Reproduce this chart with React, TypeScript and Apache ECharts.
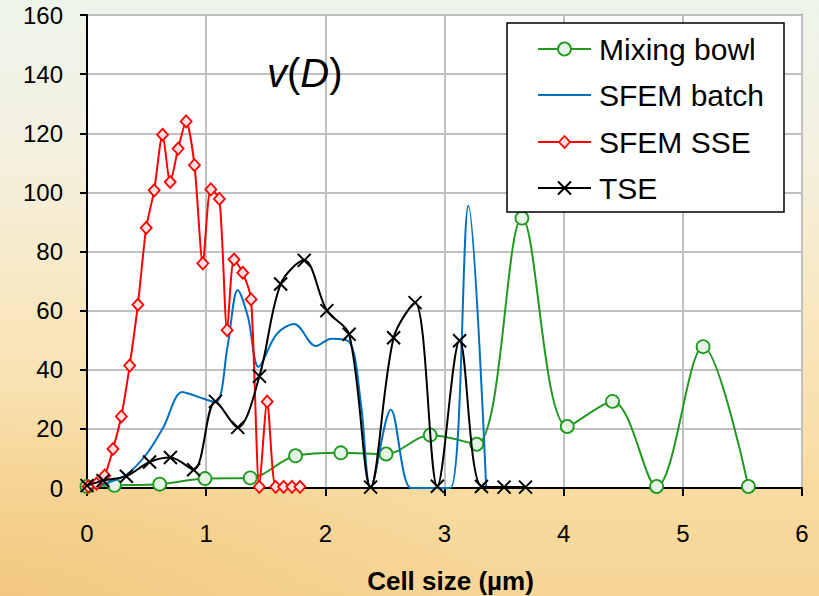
import React, { useEffect, useRef } from "react";
import * as echarts from "echarts";

const xTickMax = 6;
const yTickMax = 160;

const mixingBowlX = [0, 0.23, 0.61, 0.99, 1.37, 1.75, 2.13, 2.51, 2.88, 3.27, 3.65, 4.03, 4.41, 4.78, 5.17, 5.55];
const mixingBowlY = [0.5, 0.9, 1.3, 3.2, 3.4, 10.9, 11.9, 11.5, 17.9, 14.8, 91.3, 20.8, 29.3, 0.5, 47.8, 0.5];

const sfemBatchX = [0, 0.15, 0.33, 0.5, 0.64, 0.8, 0.92, 1.08, 1.18, 1.265, 1.35, 1.44, 1.59, 1.74, 1.92, 2.05, 2.2, 2.3, 2.38, 2.55, 2.72, 2.88, 3.05, 3.2, 3.35];
const sfemBatchY = [0, 1.5, 4.5, 11.5, 20.5, 32.5, 31, 29, 48, 67, 58, 41, 52, 55.5, 48, 50.5, 49.5, 28, 0, 26.5, 0, 0, 0, 95.5, 0];

const sfemSseX = [0.01, 0.08, 0.148, 0.218, 0.288, 0.358, 0.427, 0.497, 0.564, 0.634, 0.698, 0.765, 0.832, 0.902, 0.972, 1.039, 1.111, 1.176, 1.234, 1.307, 1.377, 1.446, 1.512, 1.583, 1.65, 1.72, 1.787];
const sfemSseY = [0.5, 1.5, 4.2, 13.2, 24.2, 41.4, 62, 88, 100.7, 119.5, 103.5, 114.8, 124, 109.2, 76, 101, 97.8, 53.4, 77.3, 72.8, 63.8, 0.4, 29.2, 0.4, 0.4, 0.4, 0.4];

const tseX = [0, 0.134, 0.33, 0.525, 0.7, 0.895, 1.078, 1.265, 1.447, 1.625, 1.823, 2.013, 2.2, 2.38, 2.573, 2.753, 2.94, 3.127, 3.31, 3.5, 3.68];
const tseY = [0.8, 2.5, 4, 8.8, 10.3, 6.2, 29.3, 20.5, 37.8, 69, 77, 60, 52, 0.3, 50.8, 62.7, 0.6, 49.8, 0.5, 0.3, 0.3];

const seriesNames = ["Mixing bowl", "SFEM batch", "SFEM SSE", "TSE"];
const seriesColors = ["#1f9a1f", "#0070c0", "#ff0000", "#000000"];

const zip = (xs: number[], ys: number[]) => xs.map((x, i) => [x, ys[i]]);

const FONT = "'Liberation Sans', Arial, sans-serif";
const X_PATH = "path://M0 0L10 10M10 0L0 10";

export default function App() {
  const ref = useRef<HTMLDivElement>(null);
  useEffect(() => {
    if (!ref.current) return;
    const chart = echarts.init(ref.current, null, { renderer: "svg" });

    const lgX = 507, lgY = 23, lgW = 277, lgH = 189;
    const rows = [49, 95, 142, 188];
    const l0 = 538, l1 = 591, mc = (l0 + l1) / 2;
    const legendEls: any[] = [
      { type: "rect", shape: { x: lgX, y: lgY, width: lgW, height: lgH }, style: { fill: "#fff", stroke: "#000", lineWidth: 1.5 }, z: 100 },
    ];
    rows.forEach((ry, i) => {
      legendEls.push({ type: "line", shape: { x1: l0, y1: ry, x2: l1, y2: ry }, style: { stroke: seriesColors[i], lineWidth: 2 }, z: 101 });
      legendEls.push({ type: "text", x: 599, y: ry, style: { text: seriesNames[i], fill: "#000", font: `30px ${FONT}`, verticalAlign: "middle", align: "left" }, z: 101 });
    });
    legendEls.push({ type: "circle", shape: { cx: mc, cy: rows[0], r: 6.5 }, style: { fill: "#e6f4e6", stroke: seriesColors[0], lineWidth: 1.8 }, z: 102 });
    legendEls.push({ type: "polygon", shape: { points: [[mc, rows[2] - 6], [mc + 5.5, rows[2]], [mc, rows[2] + 6], [mc - 5.5, rows[2]]] }, style: { fill: "#fde0e0", stroke: seriesColors[2], lineWidth: 1.8 }, z: 102 });
    legendEls.push({ type: "line", shape: { x1: mc - 6.5, y1: rows[3] - 6.5, x2: mc + 6.5, y2: rows[3] + 6.5 }, style: { stroke: "#000", lineWidth: 2 }, z: 102 });
    legendEls.push({ type: "line", shape: { x1: mc + 6.5, y1: rows[3] - 6.5, x2: mc - 6.5, y2: rows[3] + 6.5 }, style: { stroke: "#000", lineWidth: 2 }, z: 102 });

    const option: any = {
      animation: false,
      backgroundColor: "transparent",
      grid: {
        left: 87, right: 17, top: 15, bottom: 108,
        show: true, backgroundColor: "#ffffff", borderColor: "#000", borderWidth: 1.5,
        outerBoundsMode: "none",
      },
      xAxis: {
        type: "value", min: 0, max: xTickMax, interval: 1,
        name: "Cell size (µm)", nameLocation: "middle", nameGap: 80,
        nameTextStyle: { fontFamily: FONT, fontSize: 26, fontWeight: "bold", color: "#000", padding: [0, 0, 0, 12] },
        axisLine: { onZero: false, lineStyle: { color: "#000", width: 2 } },
        axisTick: { show: true, inside: false, length: 8, lineStyle: { color: "#000", width: 2 } },
        axisLabel: { fontFamily: FONT, fontSize: 24, color: "#000", margin: 33 },
        splitLine: { show: true, lineStyle: { color: "#c0c0c0", width: 2 } },
      },
      yAxis: {
        type: "value", min: 0, max: yTickMax, interval: 20,
        axisLine: { show: true, lineStyle: { color: "#000", width: 2 } },
        axisTick: { show: true, inside: false, length: 7, lineStyle: { color: "#000", width: 2 } },
        axisLabel: { fontFamily: FONT, fontSize: 24, color: "#000", margin: 24 },
        splitLine: { show: true, lineStyle: { color: "#c0c0c0", width: 2 } },
      },
      graphic: [
        {
          type: "text", x: 267, y: 73, z: 100,
          style: {
            text: "{i|v}{n|(}{i|D}{n|)}",
            verticalAlign: "middle",
            rich: {
              i: { fontFamily: FONT, fontSize: 40, fontStyle: "italic", fill: "#000" },
              n: { fontFamily: FONT, fontSize: 40, fill: "#000" },
            },
          },
        },
        ...legendEls,
      ],
      series: [
        {
          name: seriesNames[0], type: "line", data: zip(mixingBowlX, mixingBowlY), smooth: 0.33,
          lineStyle: { color: seriesColors[0], width: 2 },
          symbol: "circle", symbolSize: 13,
          itemStyle: { color: "#e6f4e6", borderColor: seriesColors[0], borderWidth: 1.8 },
          z: 2,
        },
        {
          name: seriesNames[1], type: "line", data: zip(sfemBatchX, sfemBatchY), smooth: 0.33,
          lineStyle: { color: seriesColors[1], width: 2 },
          symbol: "none", showSymbol: false,
          z: 3,
        },
        {
          name: seriesNames[2], type: "line", data: zip(sfemSseX, sfemSseY), smooth: 0.25,
          lineStyle: { color: seriesColors[2], width: 2 },
          symbol: "diamond", symbolSize: [11, 12],
          itemStyle: { color: "#fde0e0", borderColor: seriesColors[2], borderWidth: 1.8 },
          z: 4,
        },
        {
          name: seriesNames[3], type: "line", data: zip(tseX, tseY), smooth: 0.33,
          lineStyle: { color: seriesColors[3], width: 2 },
          symbol: X_PATH, symbolSize: 13,
          itemStyle: { color: "#000", borderColor: "#000", borderWidth: 2 },
          z: 5,
        },
      ],
    };
    chart.setOption(option);
    return () => chart.dispose();
  }, []);

  return (
    <div
      style={{
        position: "absolute", left: 0, top: 0, width: 819, height: 596, overflow: "hidden",
        background:
          "radial-gradient(ellipse 60% 35% at 0% 100%, rgba(240,190,110,0.55), rgba(240,190,110,0) 100%), linear-gradient(180deg, #eef4ea 0%, #f4f1e0 25%, #f8e6bc 55%, #f8dca2 80%, #f6d596 100%)",
      }}
    >
      <div ref={ref} style={{ width: 819, height: 596 }} />
    </div>
  );
}
